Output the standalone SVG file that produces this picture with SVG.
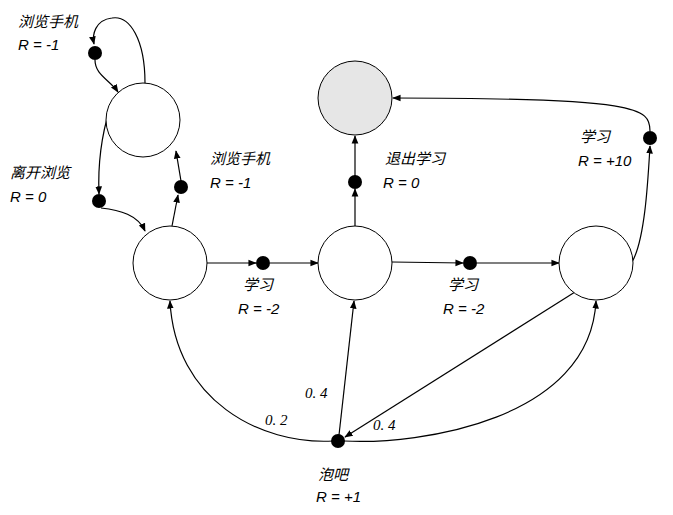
<svg xmlns="http://www.w3.org/2000/svg" width="673" height="515" viewBox="0 0 673 515">
<style>
.n{fill:#fff;stroke:#000;stroke-width:1}
.d{fill:#000}
.c{fill:none;stroke:#000;stroke-width:1.2;marker-end:url(#a)}
.t{font-family:"Liberation Sans","Noto Sans CJK SC",sans-serif;font-size:15px;font-style:italic}
.p{font-family:"Liberation Serif",serif;font-size:15px;font-style:italic}
</style>
<defs><marker id="a" viewBox="0 0 10 10" refX="9" refY="5" markerWidth="7" markerHeight="7" orient="auto"><path d="M0,1L10,5L0,9z" fill="#000"/></marker></defs>
<rect width="673" height="515" fill="#fff"/>
<g id="connectors">
<path class="c" d="M145,83C145,40 130,15 112,18C95,20 92,35 94,44"/>
<path class="c" d="M95,60C95,75 110,80 118,92"/>
<path class="c" d="M110,108C100,140 98,170 99,194"/>
<path class="c" d="M101,208C120,210 138,215 145,231"/>
<path class="c" d="M172,226L178,195"/>
<path class="c" d="M181,181L176,151"/>
<path class="c" d="M207,263L256,263"/>
<path class="c" d="M270,263L318,263"/>
<path class="c" d="M355,226L355,189"/>
<path class="c" d="M355,176L355,136"/>
<path class="c" d="M392,262L463,263"/>
<path class="c" d="M477,263L559,263"/>
<path class="c" d="M632,262C645,240 648,180 650,146"/>
<path class="c" d="M650,131C650,108 640,98 393,98"/>
<path class="c" d="M333,441C260,445 175,400 170,301"/>
<path class="c" d="M339,435L354,301"/>
<path class="c" d="M344,441C420,445 590,420 596,301"/>
<path class="c" d="M575,292L345,437"/>
</g>
<g id="n1"><circle class="n" cx="143" cy="120" r="37"/></g>
<g id="n2"><circle class="n" cx="170" cy="263" r="37"/></g>
<g id="n3"><circle class="n" cx="355" cy="263" r="37"/></g>
<g id="n4"><circle cx="355" cy="98" r="37" fill="#e6e6e6" stroke="#000"/></g>
<g id="n5"><circle class="n" cx="596" cy="263" r="37"/></g>
<g id="dots">
<circle class="d" cx="95" cy="53" r="7"/>
<circle class="d" cx="181" cy="187" r="7"/>
<circle class="d" cx="99" cy="201" r="7"/>
<circle class="d" cx="263" cy="263" r="7"/>
<circle class="d" cx="355" cy="182" r="7"/>
<circle class="d" cx="470" cy="263" r="7"/>
<circle class="d" cx="650" cy="138" r="7"/>
<circle class="d" cx="338" cy="441" r="7"/>
</g>
<g id="labels">
<text class="t" x="18" y="27">浏览手机</text><text class="t" x="18" y="50">R = -1</text>
<text class="t" x="10" y="178">离开浏览</text><text class="t" x="10" y="202">R = 0</text>
<text class="t" x="210" y="164">浏览手机</text><text class="t" x="210" y="188">R = -1</text>
<text class="t" x="243" y="290">学习</text><text class="t" x="238" y="314">R = -2</text>
<text class="t" x="385" y="164">退出学习</text><text class="t" x="383" y="188">R = 0</text>
<text class="t" x="448" y="290">学习</text><text class="t" x="443" y="314">R = -2</text>
<text class="t" x="580" y="142">学习</text><text class="t" x="578" y="166">R = +10</text>
<text class="t" x="318" y="480">泡吧</text><text class="t" x="316" y="502">R = +1</text>
<text class="p" x="265" y="425">0. 2</text>
<text class="p" x="305" y="398">0. 4</text>
<text class="p" x="373" y="430">0. 4</text>
</g>
</svg>
